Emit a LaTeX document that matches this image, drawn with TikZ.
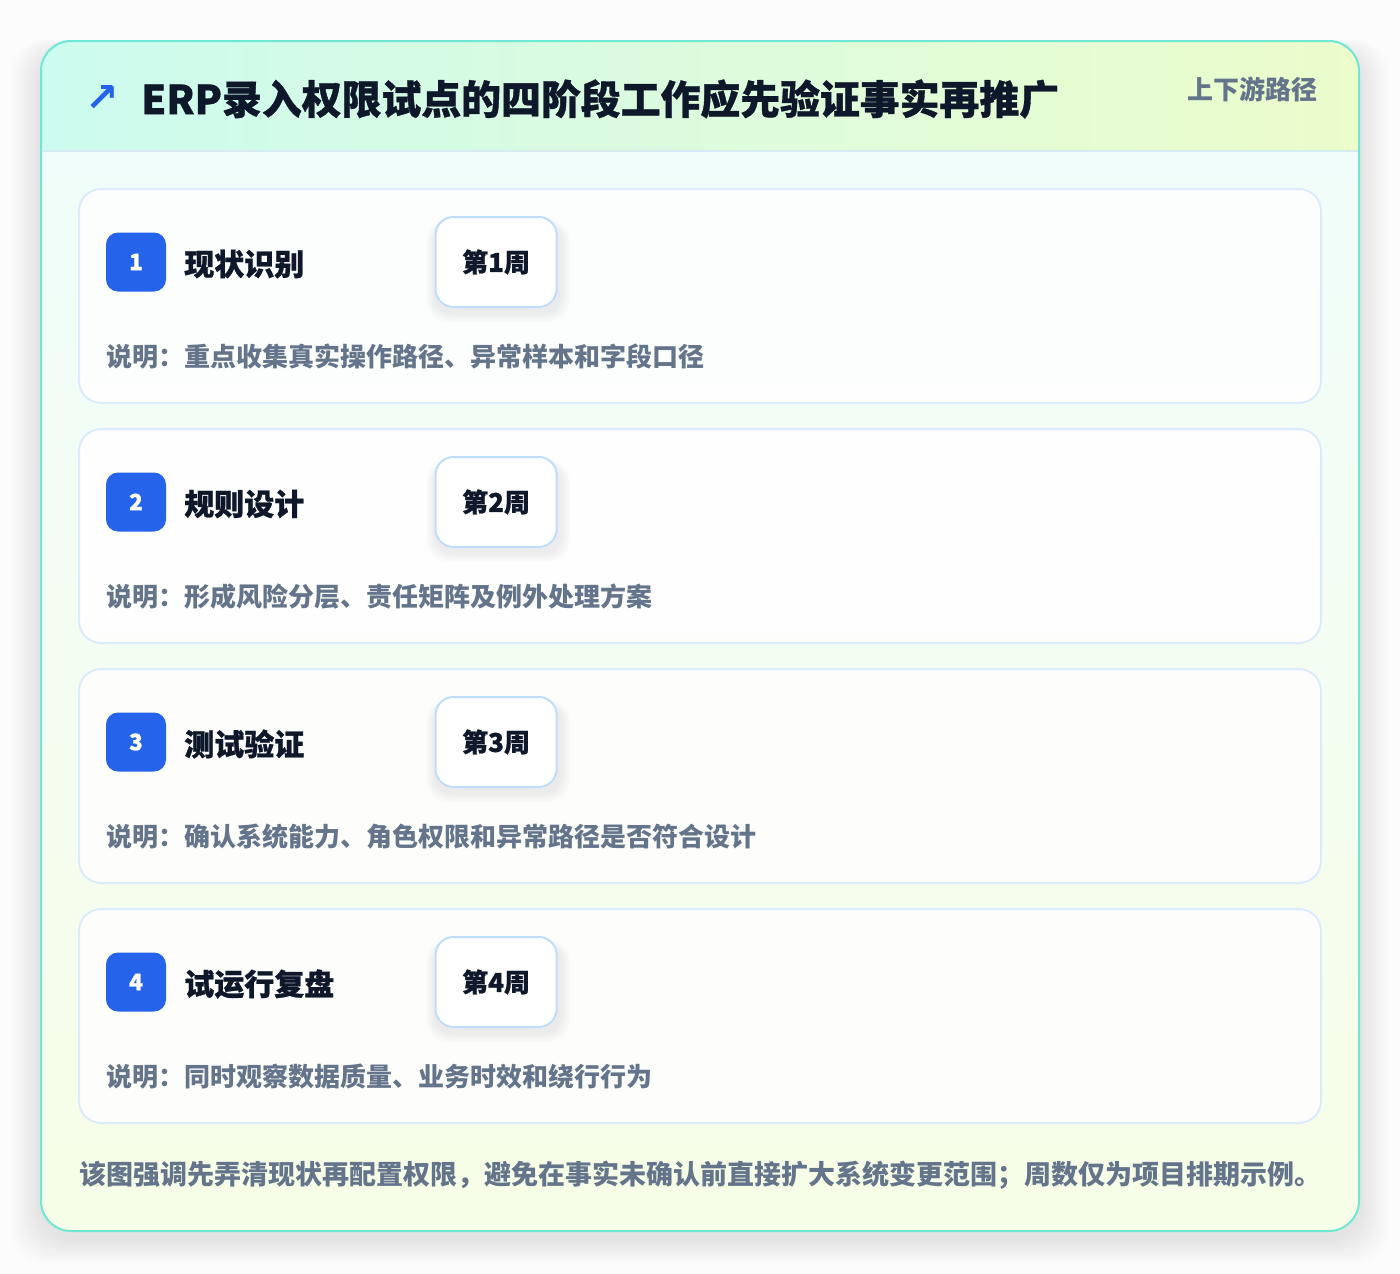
\documentclass[tikz,border=0pt]{standalone}
\usepackage{fontspec}
\setmainfont{Noto Sans CJK SC}
\newfontfamily\heavyfont{Noto Sans CJK SC}[BoldFeatures={FakeBold=0.9}]
\newfontfamily\arrowfont{DejaVu Sans}
\definecolor{cPage}{HTML}{FCFCFC}
\definecolor{cBorder}{HTML}{6EE7D4}
\definecolor{cHeadL}{HTML}{CCFBEF}
\definecolor{cHeadR}{HTML}{ECFCCB}
\definecolor{cBodyTop}{HTML}{F0FDFA}
\definecolor{cBodyBot}{HTML}{F7FEE7}
\definecolor{cDivider}{HTML}{D6EAF2}
\definecolor{cCardLine}{HTML}{DBEAFE}
\definecolor{cPillLine}{HTML}{BFDBFE}
\definecolor{cDark}{HTML}{0F172A}
\definecolor{cGray}{HTML}{64748B}
\definecolor{cBlue}{HTML}{2563EB}
\tikzset{
  cardbox/.style={draw=cCardLine, line width=1.5pt, fill=white, fill opacity=0.85, rounded corners=16.5pt},
  badgebox/.style={fill=cBlue, text=white, rounded corners=9pt, minimum width=45pt, minimum height=44.25pt, inner sep=0pt, font=\heavyfont\bfseries\fontsize{17}{18}\selectfont},
  cardtitle/.style={anchor=west, text=cDark, inner sep=0pt, font=\heavyfont\bfseries\fontsize{22.5}{24}\selectfont},
  pillbox/.style={draw=cPillLine, line width=1.5pt, fill=white, rounded corners=13.5pt, minimum height=67.5pt, inner xsep=20pt, inner ysep=0pt, text=cDark, font=\heavyfont\bfseries\fontsize{19.5}{21}\selectfont},
  desctext/.style={anchor=west, text=cGray, inner sep=0pt, font=\bfseries\fontsize{19.5}{21}\selectfont},
}
\begin{document}
\begin{tikzpicture}[x=0.75pt,y=-0.75pt]
\useasboundingbox (0,0) rectangle (1400,1274);
\fill[cPage] (0,0) rectangle (1400,1274);
% outer shadow
\foreach \k in {1,...,12}{
  \fill[black, opacity=0.007, rounded corners=26pt] (41-2.5*\k,41-\k+10) rectangle (1359+2.5*\k,1231+2*\k+8);
}
% outer card
\begin{scope}
  \clip[rounded corners=22.5pt] (41,41) rectangle (1359,1231);
  \shade[top color=cBodyTop, bottom color=cBodyBot] (41,151) rectangle (1359,1231);
  \shade[left color=cHeadL, right color=cHeadR] (41,41) rectangle (1359,151);
\end{scope}
\draw[cDivider, line width=1.5pt] (41,151) -- (1359,151);
\draw[cBorder, line width=1.5pt, rounded corners=22.5pt] (41,41) rectangle (1359,1231);
% header
\node[text=cBlue, inner sep=0pt, font=\arrowfont\bfseries\fontsize{30}{30}\selectfont] (arrow) at (102,99) {↗};
\node[anchor=west, text=cDark, inner sep=0pt, font=\heavyfont\bfseries\fontsize{29.9}{31}\selectfont] (title) at (141,99) {ERP录入权限试点的四阶段工作应先验证事实再推广};
\node[anchor=east, text=cGray, inner sep=0pt, font=\bfseries\fontsize{19.5}{21}\selectfont] (tag) at (1318,89) {上下游路径};
% cards
\foreach \i/\ttl/\desc in {0/现状识别/说明：重点收集真实操作路径、异常样本和字段口径,
                          1/规则设计/说明：形成风险分层、责任矩阵及例外处理方案,
                          2/测试验证/说明：确认系统能力、角色权限和异常路径是否符合设计,
                          3/试运行复盘/说明：同时观察数据质量、业务时效和绕行行为}{
  \pgfmathsetmacro\t{189+240*\i}
  \pgfmathtruncatemacro\n{\i+1}
  \draw[cardbox] (79,\t) rectangle (1321,\t+214);
  \coordinate (card\n) at (700,\t+107);
  \node[badgebox] (badge\n) at (136,\t+73) {\n};
  \node[cardtitle] (ttl\n) at (184,\t+75) {\ttl};
  % pill shadow
  \foreach \s in {1,...,6}{
    \fill[black, opacity=0.010, rounded corners=16pt] (435-1.5*\s,\t+28-0.5*\s+6) rectangle (561+1.5*\s,\t+118+1.5*\s+6);
  }
  \node[pillbox, anchor=west] (week\n) at (434.5,\t+73) {第{\n}周};
  \node[desctext] (desc\n) at (106,\t+168) {\desc};
}
% footer
\node[anchor=west, text=cGray, inner sep=0pt, font=\bfseries\fontsize{20.25}{22}\selectfont] (foot) at (79,1175) {该图强调先弄清现状再配置权限，避免在事实未确认前直接扩大系统变更范围；周数仅为项目排期示例。};
\end{tikzpicture}
\end{document}
